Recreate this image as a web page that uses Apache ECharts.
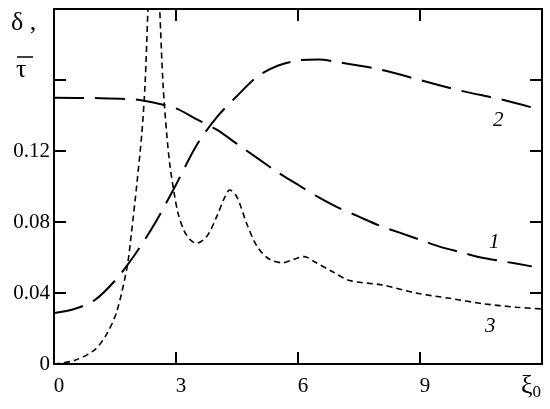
<!DOCTYPE html>
<html>
<head>
<meta charset="utf-8">
<script src="https://cdn.jsdelivr.net/npm/echarts@6/dist/echarts.min.js"></script>
<style>
  html, body { margin: 0; padding: 0; background: #fff; }
  #chart { width: 550px; height: 409px; }
</style>
</head>
<body>
<div id="chart"></div>
<script>
// x ticks / y ticks
const xTicks = [0, 3, 6, 9]
const yTickLabels = { 0: '0', 0.04: '0.04', 0.08: '0.08', 0.12: '0.12' }

// curve 1 (long dash, falling)
const curve1 = [[0, 0.150], [1, 0.1498], [2, 0.149], [2.5, 0.147], [3, 0.144], [3.5, 0.138],
  [4, 0.132], [4.5, 0.124], [5, 0.116], [5.5, 0.108], [6, 0.101], [6.5, 0.094], [7, 0.088],
  [7.5, 0.083], [8, 0.078], [8.5, 0.074], [9, 0.070], [9.5, 0.066], [10, 0.063],
  [10.5, 0.060], [11, 0.058], [11.75, 0.055]]

// curve 2 (long dash, rising then falling)
const curve2 = [[0, 0.0287], [0.5, 0.031], [1, 0.036], [1.5, 0.047], [2, 0.062], [2.5, 0.080],
  [3, 0.101], [3.5, 0.123], [4, 0.139], [4.5, 0.151], [5, 0.162], [5.5, 0.168], [6, 0.171],
  [6.5, 0.1715], [7, 0.170], [8, 0.166], [9, 0.160], [10, 0.154], [11, 0.149], [12, 0.143]]

// curve 3 (short dash, spike near 2.45)
const curve3 = [[0, 0], [0.5, 0.002], [1, 0.008], [1.3, 0.017], [1.55, 0.030], [1.8, 0.055],
  [1.9, 0.073], [2.04, 0.102], [2.16, 0.130], [2.24, 0.158], [2.31, 0.2], [2.38, 0.24],
  [2.45, 0.26], [2.53, 0.24], [2.6, 0.2], [2.68, 0.158], [2.77, 0.130], [2.85, 0.112],
  [2.95, 0.097], [3.05, 0.085], [3.2, 0.075], [3.35, 0.070], [3.5, 0.068], [3.76, 0.072],
  [4.0, 0.083], [4.2, 0.094], [4.32, 0.098], [4.5, 0.094], [4.74, 0.079], [5.0, 0.066],
  [5.3, 0.059], [5.63, 0.057], [5.9, 0.059], [6.15, 0.0605], [6.45, 0.057], [6.85, 0.052],
  [7.27, 0.047], [8.08, 0.0445], [8.9, 0.040], [9.73, 0.037], [10.54, 0.034],
  [11.37, 0.032], [12, 0.031]]

const font = 'Liberation Serif'
const chart = echarts.init(document.getElementById('chart'))

const axisLine = { show: true, onZero: false, lineStyle: { color: '#000', width: 2 } }
const tick = { show: true, inside: true, length: 12, lineStyle: { color: '#000', width: 2 } }

chart.setOption({
  animation: false,
  grid: { left: 54, right: 8, top: 9, bottom: 45 },
  xAxis: [{
    type: 'value', min: 0, max: 12, interval: 3,
    axisLine: axisLine, axisTick: tick, splitLine: { show: false },
    axisLabel: {
      color: '#000', fontFamily: font, fontSize: 21, margin: 12,
      formatter: v => xTicks.includes(v) ? String(v) : '',
      padding: [0, 0, 0, 10]
    }
  }, {
    type: 'value', min: 0, max: 12, interval: 3, position: 'top',
    axisLine: axisLine, axisTick: tick, splitLine: { show: false },
    axisLabel: { show: false }
  }],
  yAxis: [{
    type: 'value', min: 0, max: 0.2, interval: 0.04,
    axisLine: axisLine, axisTick: tick, splitLine: { show: false },
    axisLabel: {
      color: '#000', fontFamily: font, fontSize: 21, margin: 4,
      formatter: v => yTickLabels[Math.round(v * 100) / 100] || '',
      padding: [8, 0, 0, 0]
    }
  }, {
    type: 'value', min: 0, max: 0.2, interval: 0.04, position: 'right',
    axisLine: axisLine, axisTick: tick, splitLine: { show: false },
    axisLabel: { show: false }
  }],
  series: [{
    name: '1', type: 'line', data: curve1, smooth: 0.3, symbol: 'none',
    lineStyle: { color: '#000', width: 2, type: [30, 11] }
  }, {
    name: '2', type: 'line', data: curve2, smooth: 0.3, symbol: 'none',
    lineStyle: { color: '#000', width: 2, type: [30, 11] }
  }, {
    name: '3', type: 'line', data: curve3, smooth: 0.3, symbol: 'none',
    lineStyle: { color: '#000', width: 1.6, type: [6, 4] }
  }],
  graphic: [
    { type: 'text', left: 11, top: 10, style: { text: 'δ ,', font: '26px "Liberation Serif"', fill: '#000' } },
    { type: 'text', left: 16, top: 57, style: { text: 'τ', font: '26px "Liberation Serif"', fill: '#000' } },
    { type: 'line', shape: { x1: 17, y1: 57, x2: 33, y2: 57 }, style: { stroke: '#000', lineWidth: 1.5 } },
    {
      type: 'text', left: 521, top: 373,
      style: {
        text: '{a|ξ}{b|0}', fill: '#000',
        rich: {
          a: { fontFamily: font, fontSize: 26, fill: '#000' },
          b: { fontFamily: font, fontSize: 17, fill: '#000', padding: [14, 0, 0, 0] }
        }
      }
    },
    { type: 'text', left: 493, top: 110, style: { text: '2', font: 'italic 21px "Liberation Serif"', fill: '#000' } },
    { type: 'text', left: 489, top: 232, style: { text: '1', font: 'italic 21px "Liberation Serif"', fill: '#000' } },
    { type: 'text', left: 485, top: 316, style: { text: '3', font: 'italic 21px "Liberation Serif"', fill: '#000' } }
  ]
})
</script>
</body>
</html>
